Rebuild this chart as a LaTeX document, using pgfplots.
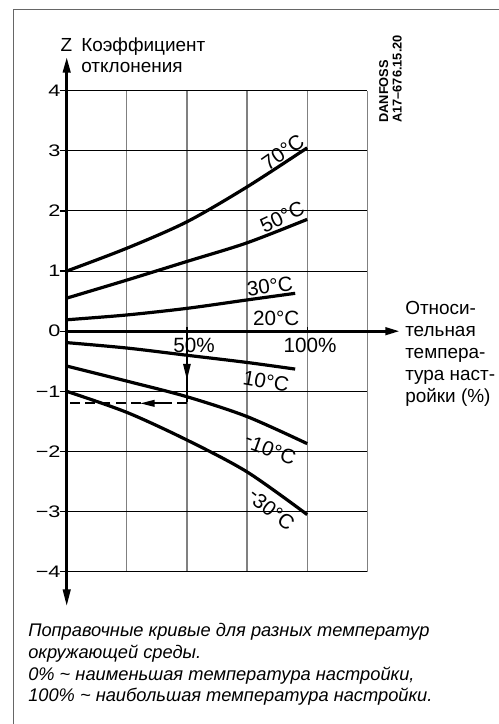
\documentclass[border=0pt]{standalone}
\usepackage{fontspec}
\setmainfont{Liberation Sans}
\newfontfamily\isofont[FakeStretch=1.3]{Liberation Sans}
\usepackage{pgfplots}
\pgfplotsset{compat=1.18}
\usetikzlibrary{arrows.meta}
\newcommand{\tlab}{\fontsize{15.5}{17}\selectfont}
\newcommand{\mainf}{\fontsize{14.2}{16}\selectfont}
\newcommand{\capf}{\fontsize{13.7}{16}\selectfont}
\begin{document}
\begin{tikzpicture}[x=0.75pt,y=0.75pt]
\useasboundingbox (0,0) rectangle (499,724);
\draw[line width=0.75pt, black!60] (13,0) -- (13,714) -- (499,714);
% title of y axis
\node[anchor=base, inner sep=0pt, font=\mainf] at (66.5,672) {Z};
\node[anchor=base west, inner sep=0pt, font=\mainf] at (81,672) {Коэффициент};
\node[anchor=base west, inner sep=0pt, font=\mainf] at (81,651) {отклонения};
% x axis title
\node[anchor=base west, inner sep=0pt, font=\mainf] at (405,409) {Относи-};
\node[anchor=base west, inner sep=0pt, font=\mainf] at (405,387) {тельная};
\node[anchor=base west, inner sep=0pt, font=\mainf] at (405,365) {темпера-};
\node[anchor=base west, inner sep=0pt, font=\mainf] at (405,343) {тура наст-};
\node[anchor=base west, inner sep=0pt, font=\mainf] at (405,321) {ройки (\%)};
% DANFOSS
\node[rotate=90, anchor=north west, inner sep=0pt, align=left, font=\bfseries\fontsize{9.6}{10}\selectfont] at (379,601) {DANFOSS\\A17–676.15.20};
% caption
\node[anchor=base west, inner sep=0pt, font=\itshape\capf] at (28,87) {Поправочные кривые для разных температур};
\node[anchor=base west, inner sep=0pt, font=\itshape\capf] at (28,65) {окружающей среды.};
\node[anchor=base west, inner sep=0pt, font=\itshape\capf] at (28,43) {0\% \textasciitilde{} наименьшая температура настройки,};
\node[anchor=base west, inner sep=0pt, font=\itshape\capf] at (28,22) {100\% \textasciitilde{} наибольшая температура настройки.};
\begin{axis}[
  at={(50.025pt,114.225pt)}, anchor=south west,
  scale only axis, width=225.45pt, height=360.75pt,
  xmin=0, xmax=125, ymin=-4, ymax=4,
  clip=false,
  axis line style={draw=none},
  xtick={0,25,50,75,100,125}, xticklabels={},
  ytick={-4,-3,-2,-1,0,1,2,3,4},
  yticklabels={−4,−3,−2,−1,0,1,2,3,4},
  yticklabel style={font=\isofont\fontsize{12.5}{14}\selectfont, inner sep=0pt, xshift=0.8pt},
  ytick pos=left, xtick style={draw=none},
  ytick style={black, line width=1pt},
  tick align=outside, major tick length=5.25pt,
  grid=major,
  x grid style={black!50, line width=1pt},
  y grid style={black, line width=0.7pt},
]
% curves
\addplot[black, line width=2.4pt, smooth] coordinates {(0,1.0) (25,1.38) (50,1.82) (75,2.40) (100,3.05)};
\addplot[black, line width=2.4pt, smooth] coordinates {(0,0.55) (25,0.85) (50,1.16) (75,1.47) (100,1.86)};
\addplot[black, line width=2.4pt, smooth] coordinates {(0,0.19) (25,0.27) (50,0.38) (75,0.52) (95,0.63)};
\addplot[black, line width=2.4pt, smooth] coordinates {(0,-0.19) (25,-0.28) (50,-0.40) (75,-0.52) (95,-0.63)};
\addplot[black, line width=2.4pt, smooth] coordinates {(0,-0.58) (25,-0.83) (50,-1.09) (75,-1.42) (100,-1.87)};
\addplot[black, line width=2.4pt, smooth] coordinates {(0,-1.0) (25,-1.35) (50,-1.81) (75,-2.34) (100,-3.05)};
% axes
\draw[line width=2.3pt, {Triangle[length=12pt,width=5.5pt]}-{Triangle[length=13pt,width=5.5pt]}] (axis cs:0,4.566) -- (axis cs:0,-4.582);
\draw[line width=2.3pt, -{Triangle[length=11pt,width=5.5pt]}] (axis cs:0,0) -- (axis cs:138.6,0);
\draw[line width=1pt] (axis cs:100,0) -- (axis cs:100,0.07);
% construction line
\draw[line width=1.3pt] (axis cs:50,0.07) -- (axis cs:50,-1.18);
\draw[line width=1.3pt, -{Triangle[length=12pt,width=5.5pt]}] (axis cs:50,-0.3) -- (axis cs:50,-0.81);
\draw[line width=1.5pt, dash pattern=on 7.5pt off 4pt] (axis cs:50,-1.2) -- (axis cs:0,-1.2);
\draw[line width=1.5pt, -{Triangle[length=11pt,width=5pt]}] (axis cs:40,-1.2) -- (axis cs:30.5,-1.2);
% labels
\node[font=\tlab, inner sep=0pt] at (axis cs:53.0,-0.24) {50\%};
\node[font=\tlab, inner sep=0pt] at (axis cs:101.2,-0.24) {100\%};
\node[font=\tlab, inner sep=0pt, rotate=35] at (axis cs:89.9,2.98) {70°C};
\node[font=\tlab, inner sep=0pt, rotate=25] at (axis cs:89.6,1.90) {50°C};
\node[font=\tlab, inner sep=0pt, rotate=8] at (axis cs:84.5,0.75) {30°C};
\node[font=\tlab, inner sep=0pt] at (axis cs:87.1,0.205) {20°C};
\node[font=\tlab, inner sep=0pt, rotate=-10] at (axis cs:82.9,-0.83) {10°C};
\node[font=\tlab, inner sep=0pt, rotate=-20] at (axis cs:84.6,-1.97) {\raisebox{0.35ex}{-}10°C};
\node[font=\tlab, inner sep=0pt, rotate=-38] at (axis cs:85.0,-2.97) {\raisebox{0.35ex}{-}30°C};
\end{axis}
\end{tikzpicture}
\end{document}
